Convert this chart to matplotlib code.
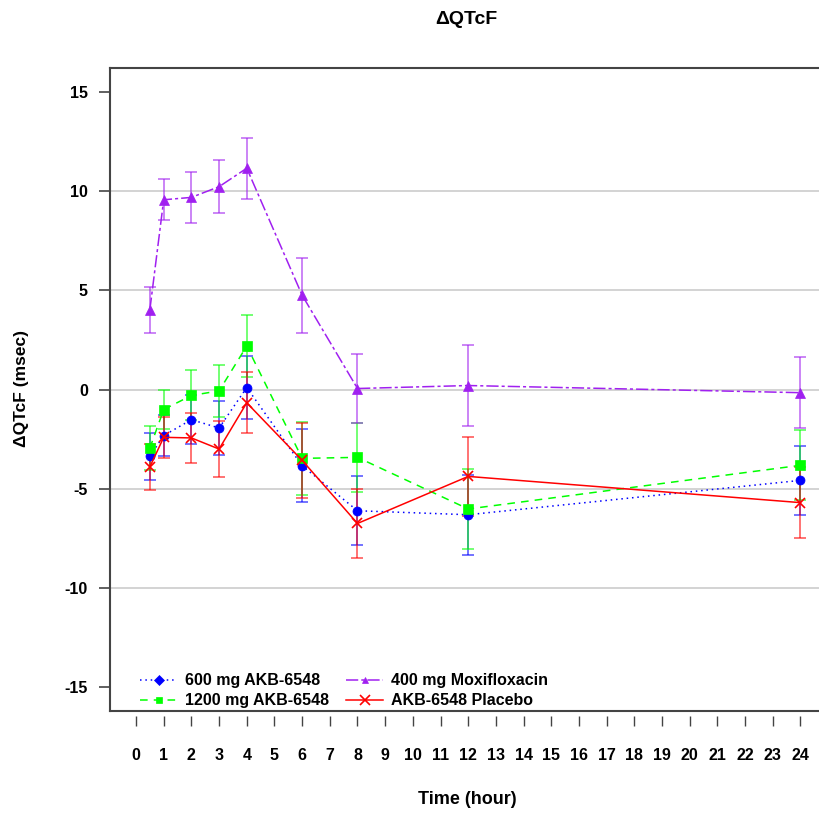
import matplotlib
matplotlib.use("Agg")
import matplotlib.pyplot as plt
from matplotlib.lines import Line2D

plt.rcParams['font.family'] = ['Liberation Sans', 'DejaVu Sans']
plt.rcParams['font.weight'] = 'bold'

# time points (hour)
hours = [0.5, 1, 2, 3, 4, 6, 8, 12, 24]

# mean change in QTcF (msec) and error half-widths
mg600 = [-3.37, -2.32, -1.52, -1.94, 0.10, -3.84, -6.11, -6.31, -4.58]
mg600_err = [1.20, 1.05, 1.22, 1.37, 1.57, 1.85, 1.74, 2.02, 1.74]

mg1200 = [-2.95, -1.01, -0.30, -0.07, 2.19, -3.47, -3.42, -6.02, -3.82]
mg1200_err = [1.13, 1.00, 1.26, 1.30, 1.55, 1.85, 1.75, 2.02, 1.76]

moxi = [4.02, 9.56, 9.68, 10.22, 11.15, 4.75, 0.05, 0.20, -0.16]
moxi_err = [1.15, 1.03, 1.28, 1.33, 1.54, 1.90, 1.75, 2.03, 1.78]

placebo = [-3.90, -2.41, -2.44, -3.00, -0.67, -3.57, -6.75, -4.38, -5.70]
placebo_err = [1.16, 1.03, 1.27, 1.39, 1.54, 1.89, 1.74, 1.98, 1.78]

labels = ['600 mg AKB-6548', '1200 mg AKB-6548', '400 mg Moxifloxacin', 'AKB-6548 Placebo']
colors = ['#0000FF', '#00FF00', '#A020F0', '#FF0000']
markers = ['o', 's', '^', 'x']
dashes = [(1, 2.5), (5, 4), (8, 2, 2, 2), ()]
series = [(mg600, mg600_err), (mg1200, mg1200_err), (moxi, moxi_err), (placebo, placebo_err)]

fig = plt.figure(figsize=(8.19, 8.14), dpi=100)
ax = fig.add_axes([110 / 819, 1 - 711 / 814, 717 / 819, 643 / 814])

for yg in [-10, -5, 0, 5, 10]:
    ax.axhline(yg, color='#cccccc', lw=1.2, zorder=0)

handles = []
for (vals, errs), col, mk, ds, lab in zip(series, colors, markers, dashes, labels):
    ax.errorbar(hours, vals, yerr=errs, fmt='none', ecolor=col, alpha=0.55,
                elinewidth=1.4, capsize=4.5, capthick=1.4, zorder=2)
    ms = 7 if mk in ('^', 'x') else 6.5
    ln, = ax.plot(hours, vals, color=col, lw=1.1, marker=mk, ms=ms,
                  mew=1.2 if mk == 'x' else 0.5, zorder=3)
    if ds:
        ln.set_dashes(ds)
    handles.append(Line2D([], [], color=col, lw=1.1, marker=('D' if mk == 'o' else mk),
                          ms=5 if mk != 'x' else 7, dashes=ds if ds else (None, None),
                          mew=1.2 if mk == 'x' else 0.5))
handles[3] = Line2D([], [], color=colors[3], lw=1.1, marker='x', ms=7, mew=1.2)

ax.set_xlim(-0.94, 24.96)
ax.set_ylim(-16.2, 16.2)

# y axis ticks
ax.set_yticks([-15, -10, -5, 0, 5, 10, 15])
ax.set_yticklabels(['-15', '-10', '-5', '0', '5', '10', '15'])
ax.tick_params(axis='y', direction='out', length=8, width=1.2, color='#444444',
               labelsize=11.5, pad=8)
ax.tick_params(axis='x', bottom=False, labelbottom=False)

for sp in ax.spines.values():
    sp.set_color('#444444')
    sp.set_linewidth(1.5)

# x axis drawn slightly below the box
sec = ax.secondary_xaxis(-0.008)
sec.set_xticks(range(0, 25))
sec.spines['bottom'].set_visible(False)
sec.tick_params(axis='x', direction='out', length=7, width=1.0, color='#444444',
                labelsize=11.5, pad=16)
for t in sec.get_xticklabels():
    t.set_fontweight('bold')
for t in ax.get_yticklabels():
    t.set_fontweight('bold')

fig.text(466 / 819, 1 - 20 / 814, 'ΔQTcF', ha='center', va='center',
         fontsize=14, fontweight='bold')
fig.text(22 / 819, 1 - 388 / 814, 'ΔQTcF (msec)', ha='center', va='center',
         rotation=90, fontsize=12.5, fontweight='bold')
fig.text(467 / 819, 1 - 800 / 814, 'Time (hour)', ha='center', va='center',
         fontsize=13, fontweight='bold')

ax.legend(handles, labels, ncol=2,
          frameon=False, loc='lower left', bbox_to_anchor=(0.022, -0.018),
          prop={'weight': 'bold', 'size': 11.5}, handlelength=2.3,
          handletextpad=0.5, columnspacing=1.1, labelspacing=0.3, numpoints=1)

fig.savefig('out.png', dpi=100, facecolor='white')
